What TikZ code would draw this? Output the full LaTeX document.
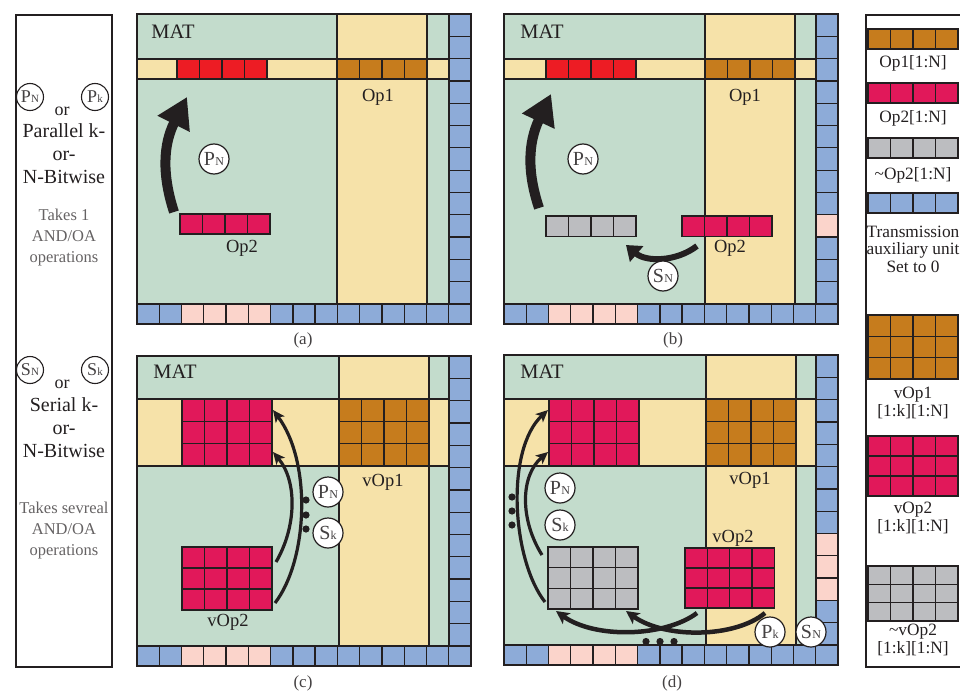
\documentclass[tikz,border=0pt]{standalone}
\usepackage{fontspec}
\setmainfont{Liberation Serif}
\usetikzlibrary{arrows.meta}
\definecolor{matgreen}{HTML}{C3DCCC}
\definecolor{matyellow}{HTML}{F6E2A9}
\definecolor{auxblue}{HTML}{8DABD8}
\definecolor{auxpink}{HTML}{FBD4CB}
\definecolor{bandred}{HTML}{ED1C24}
\definecolor{opred}{HTML}{E1185A}
\definecolor{opbrown}{HTML}{C67C1D}
\definecolor{opgray}{HTML}{BCBDC0}
\definecolor{ink}{HTML}{231F20}
\newcommand\cellgrid[7]{%
  \foreach \ci in {1,...,#3}{%
    \foreach \ri in {1,...,#4}{%
      \draw[cellline,fill=#7] ({#1+(\ci-1)*(#5)},{#2+(\ri-1)*(#6)}) rectangle ++(#5,#6);
    }%
  }%
}
\newcommand\panelbase[3]{%
  \fill[matgreen] (0,0) rectangle (312,290);
  \fill[matyellow] (#1,0) rectangle ({#1+90},290);
  \fill[matyellow] (0,#2) rectangle (312,#3);
  \draw[cellline] (#1,0) -- (#1,290) ({#1+90},0) -- ({#1+90},290) (0,#2) -- (312,#2) (0,#3) -- (312,#3);
  \foreach \k in {0,...,12}{\draw[cellline,fill=auxblue] (312,{\k*290/13}) rectangle ++(22,{290/13});}
  \foreach \k in {0,...,14}{\draw[cellline,fill=auxblue] ({\k*334/15},290) rectangle ++({334/15},20);}
  \foreach \k in {2,...,5}{\draw[cellline,fill=auxpink] ({\k*334/15},290) rectangle ++({334/15},20);}
  \draw[cellline] (0,0) rectangle (334,310);
}
\newcommand\opsym[2]{#1\kern0.3pt{\fontsize{12}{12}\selectfont #2}}
\newcommand\opsyms[2]{#1\kern0.3pt{\fontsize{11}{11}\selectfont #2}}
\tikzset{
  cellline/.style={draw=ink, line width=1.3pt},
  frame/.style={draw=ink, line width=1.3pt},
  lbl/.style={text=ink, font=\fontsize{18.5}{18.5}\selectfont, inner sep=0pt},
  matlbl/.style={text=ink, font=\fontsize{20.5}{20.5}\selectfont, inner sep=0pt},
  caption/.style={text=ink!85, font=\fontsize{17}{17}\selectfont, inner sep=0pt},
  opc/.style={circle, draw=ink, fill=white, line width=1.2pt, minimum size=30pt, inner sep=0pt, text=ink!85, font=\fontsize{20}{20}\selectfont},
  sidec/.style={circle, draw=ink, fill=white, line width=1.1pt, minimum size=27pt, inner sep=0pt, text=ink!85, font=\fontsize{18}{18}\selectfont},
  sidetxt/.style={text=ink, font=\fontsize{20}{23}\selectfont, align=center, inner sep=0pt},
  sidegray/.style={text=ink!70, font=\fontsize{16.5}{21}\selectfont, align=center, inner sep=0pt},
  legtxt/.style={text=ink, font=\fontsize{17.3}{17.5}\selectfont, align=center, inner sep=0pt},
  thickarrow/.style={draw=ink, line width=10pt, -{Triangle[length=30pt,width=34pt]}},
  midarrow/.style={draw=ink, line width=6pt, -{Triangle[length=14pt,width=20pt]}},
  thinarrow/.style={draw=ink, line width=3.2pt, -{Stealth[length=12pt,width=11pt,inset=3pt]}},
  botarrow/.style={draw=ink, line width=4.5pt, -{Stealth[length=13pt,width=13pt,inset=3pt]}},
}
\begin{document}
\begin{tikzpicture}[x=1pt,y=-1pt]
\useasboundingbox (0,0) rectangle (960,690);

% ---------- left explanation panel ----------
\draw[frame] (16,15) rectangle (112,667);
\node[sidec] (lpn) at (30,97) {\opsyms{P}{N}};
\node[sidec] (lpk) at (95,97) {\opsyms{P}{k}};
\node[lbl, font=\fontsize{18}{18}\selectfont] (lor1) at (62,111) {or};
\node[sidetxt] (lpar) at (64,154) {Parallel k-\\or-\\N-Bitwise};
\node[sidegray] (ltake1) at (64,238) {Takes 1\\AND/OA\\operations};
\node[sidec] (lsn) at (30,370) {\opsyms{S}{N}};
\node[sidec] (lsk) at (95,370) {\opsyms{S}{k}};
\node[lbl, font=\fontsize{18}{18}\selectfont] (lor2) at (62,384) {or};
\node[sidetxt] (lser) at (64,428) {Serial k-\\or-\\N-Bitwise};
\node[sidegray] (ltake2) at (64,531) {Takes sevreal\\AND/OA\\operations};

% ---------- panel (a) ----------
\begin{scope}[shift={(137,14)}]
  \panelbase{200}{45}{65}
\end{scope}
\cellgrid{177}{59}{4}{1}{22.5}{20}{bandred}
\cellgrid{337}{59}{4}{1}{22.5}{20}{opbrown}
\cellgrid{180}{214}{4}{1}{22.5}{20}{opred}
\coordinate (aop2) at (174,212);
\coordinate (aband) at (187,97);
\draw[thickarrow] (aop2) .. controls (162,175) and (163,145) .. (aband);
\node[matlbl] (amat) at (173,32) {MAT};
\node[lbl] (aop1l) at (378,97) {Op1};
\node[lbl] (aop2l) at (242,248) {Op2};
\node[opc] (apn) at (214,159) {\opsym{P}{N}};
\node[caption] (acap) at (303,340) {(a)};

% ---------- panel (b) ----------
\begin{scope}[shift={(504,14)}]
  \panelbase{201}{45}{65}
  \draw[cellline,fill=auxpink] (312,{9*290/13}) rectangle ++(22,{290/13});
\end{scope}
\cellgrid{546}{59}{4}{1}{22.5}{20}{bandred}
\cellgrid{705}{59}{4}{1}{22.5}{20}{opbrown}
\cellgrid{546}{216}{4}{1}{22.5}{20.5}{opgray}
\cellgrid{682}{216}{4}{1}{22.5}{20.5}{opred}
\coordinate (bgray) at (539,208);
\coordinate (bband) at (551,94);
\coordinate (bop2) at (697,246);
\coordinate (bneg) at (626,245);
\draw[thickarrow] (bgray) .. controls (527,172) and (528,143) .. (bband);
\draw[midarrow] (bop2) .. controls (676,262) and (646,262) .. (bneg);
\node[matlbl] (bmat) at (542,32) {MAT};
\node[lbl] (bop1l) at (745,97) {Op1};
\node[lbl] (bop2l) at (730,248) {Op2};
\node[opc] (bpn) at (583,159) {\opsym{P}{N}};
\node[opc] (bsn) at (663,276) {\opsym{S}{N}};
\node[caption] (bcap) at (673,340) {(b)};

% ---------- panel (c) ----------
\begin{scope}[shift={(137,356)}]
  \panelbase{202}{43}{110}
\end{scope}
\cellgrid{182}{399}{4}{3}{22.5}{22.33}{opred}
\cellgrid{339}{399}{4}{3}{22.5}{22.33}{opbrown}
\cellgrid{182}{547}{4}{3}{22.5}{21}{opred}
\coordinate (cs1) at (276,562);
\coordinate (ct1) at (273,452);
\coordinate (cs2) at (275,603);
\coordinate (ct2) at (273,410);
\draw[thinarrow] (cs1) .. controls (296,528) and (298,482) .. (ct1);
\draw[thinarrow] (cs2) .. controls (308,560) and (312,462) .. (ct2);
\foreach \yy in {500,515,529}{\fill[ink] (306,\yy) circle[radius=3.6pt];}
\node[matlbl] (cmat) at (175,372) {MAT};
\node[lbl] (cop1l) at (383,482) {vOp1};
\node[lbl] (cop2l) at (228,622) {vOp2};
\node[opc] (cpn) at (328,492) {\opsym{P}{N}};
\node[opc] (csk) at (328,533) {\opsym{S}{k}};
\node[caption] (ccap) at (303,683) {(c)};

% ---------- panel (d) ----------
\begin{scope}[shift={(504,355)}]
  \panelbase{202}{44}{111}
  \foreach \k in {8,9,10}{\draw[cellline,fill=auxpink] (312,{\k*290/13}) rectangle ++(22,{290/13});}
\end{scope}
\cellgrid{549}{399}{4}{3}{22.5}{22.33}{opred}
\cellgrid{706}{399}{4}{3}{22.5}{22.33}{opbrown}
\cellgrid{548}{547}{4}{3}{22.5}{20.7}{opgray}
\cellgrid{685}{548}{4}{3}{22.3}{20}{opred}
\coordinate (ds1) at (542,555);
\coordinate (dt1) at (548,452);
\coordinate (ds2) at (545,602);
\coordinate (dt2) at (548,410);
\coordinate (dx1) at (697,613);
\coordinate (dy1) at (556,611);
\coordinate (dx2) at (765,613);
\coordinate (dy2) at (626,611);
\draw[thinarrow] (ds1) .. controls (520,520) and (520,476) .. (dt1);
\draw[thinarrow] (ds2) .. controls (512,560) and (505,450) .. (dt2);
\draw[botarrow] (dx1) .. controls (665,637) and (595,639) .. (dy1);
\draw[botarrow] (dx2) .. controls (735,638) and (665,639) .. (dy2);
\foreach \yy in {497,511,525}{\fill[ink] (512,\yy) circle[radius=3.6pt];}
\foreach \xx in {646,660,674}{\fill[ink] (\xx,641.5) circle[radius=3.6pt];}
\node[matlbl] (dmat) at (542,372) {MAT};
\node[lbl] (dop1l) at (750,480) {vOp1};
\node[lbl] (dop2l) at (733,538) {vOp2};
\node[opc] (dpn) at (560,488) {\opsym{P}{N}};
\node[opc] (dsk) at (560,525) {\opsym{S}{k}};
\node[opc] (dpk) at (770,632) {\opsym{P}{k}};
\node[opc] (dsn) at (811,632) {\opsym{S}{N}};
\node[caption] (dcap) at (672,683) {(d)};

% ---------- legend ----------
\draw[frame] (866,15) rectangle (980,667);
\cellgrid{868}{29}{4}{1}{22.5}{20}{opbrown}
\node[legtxt] (lg1) at (913,63) {Op1[1:N]};
\cellgrid{868}{83}{4}{1}{22.5}{20}{opred}
\node[legtxt] (lg2) at (913,118) {Op2[1:N]};
\cellgrid{868}{138}{4}{1}{22.5}{20}{opgray}
\node[legtxt] (lg3) at (913,175) {\textasciitilde Op2[1:N]};
\cellgrid{868}{193}{4}{1}{22.5}{20}{auxblue}
\node[legtxt] (lg4) at (913,249) {Transmission\\auxiliary unit\\Set to 0};
\cellgrid{868}{315}{4}{3}{22.5}{21.3}{opbrown}
\node[legtxt] (lg5) at (913,403) {vOp1\\{}[1:k][1:N]};
\cellgrid{868}{436}{4}{3}{22.5}{20}{opred}
\node[legtxt] (lg6) at (913,518) {vOp2\\{}[1:k][1:N]};
\cellgrid{868}{566}{4}{3}{22.5}{18.3}{opgray}
\node[legtxt] (lg7) at (913,640) {\textasciitilde vOp2\\{}[1:k][1:N]};
\end{tikzpicture}
\end{document}
